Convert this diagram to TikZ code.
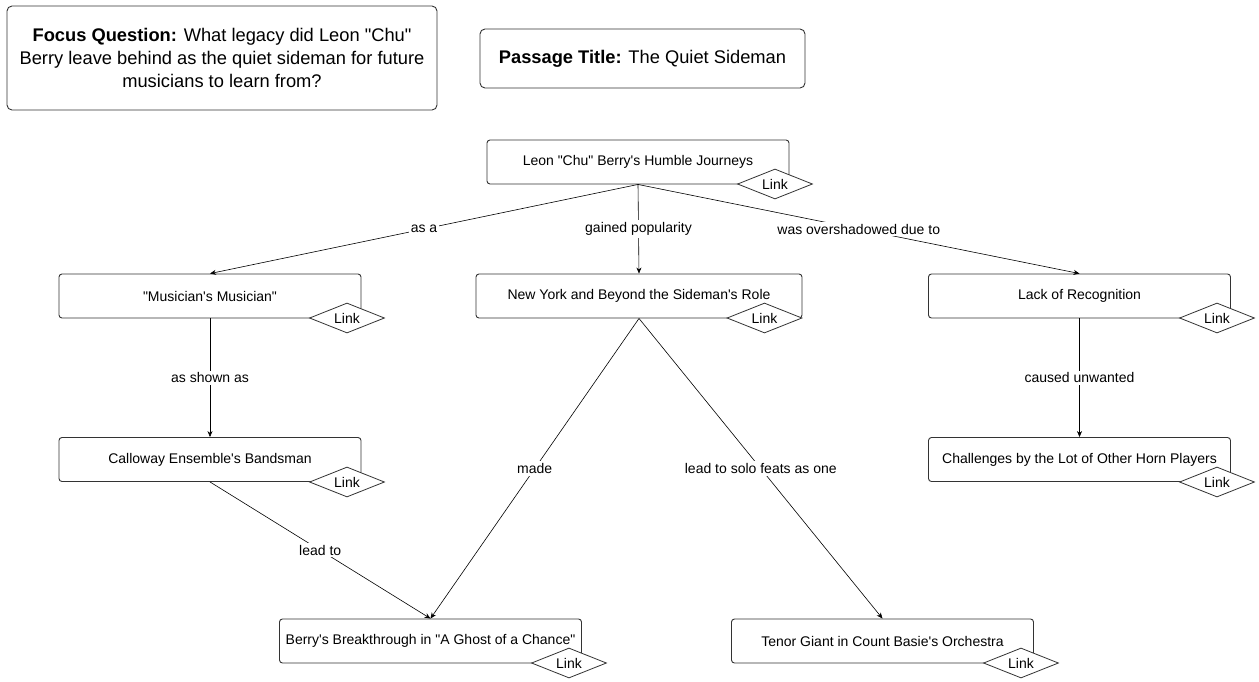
\documentclass[tikz,border=0pt]{standalone}
\usepackage{fontspec}
\setmainfont{Liberation Sans}[Ligatures=TeXOff]
\usetikzlibrary{shapes.geometric,arrows.meta}
\definecolor{edgegray}{HTML}{333333}
\tikzset{
  concept/.style={draw=edgegray, line width=0.9pt, rounded corners=3pt, fill=white,
    minimum width=302pt, minimum height=44pt, inner sep=0pt, font=\fontsize{14}{17}\selectfont},
  headbox/.style={draw=edgegray, line width=0.9pt, rounded corners=5pt, fill=white,
    inner sep=0pt, align=center, font=\fontsize{18.3}{23}\selectfont},
  linktag/.style={diamond, draw=edgegray, line width=0.8pt, fill=white, aspect=2.5,
    minimum width=75pt, minimum height=30pt, inner sep=0pt, font=\fontsize{14}{17}\selectfont},
  rel/.style={draw=black, line width=0.6pt, -{Stealth[length=6pt,width=5pt]}},
  lbl/.style={fill=white, inner sep=2pt, font=\fontsize{14}{17}\selectfont},
}
\begin{document}
\begin{tikzpicture}[x=1pt,y=-1pt]
\useasboundingbox (0,0) rectangle (1259,681);

% header boxes
\node[headbox, minimum width=430pt, minimum height=104pt] (focus) at (222,58)
  {\textbf{Focus Question:} What legacy did Leon "Chu"\\Berry leave behind as the quiet sideman for future\\musicians to learn from?};
\node[headbox, minimum width=325pt, minimum height=59pt] (title) at (642.5,58.5)
  {\textbf{Passage Title:} The Quiet Sideman};

% concept nodes
\node[concept] (root) at (638,162) {Leon "Chu" Berry's Humble Journeys};
\node[concept] (mus) at (210,296) {"Musician's Musician"};
\node[concept, minimum width=326pt] (ny) at (639,296) {New York and Beyond the Sideman's Role};
\node[concept] (lack) at (1079.5,296) {Lack of Recognition};
\node[concept] (cal) at (210,459.5) {Calloway Ensemble's Bandsman};
\node[concept] (chal) at (1079.5,459.5) {Challenges by the Lot of Other Horn Players};
\node[concept] (ghost) at (430.5,641) {Berry's Breakthrough in "A Ghost of a Chance"};
\node[concept] (tenor) at (882.5,641) {Tenor Giant in Count Basie's Orchestra};

% link tags
\node[linktag] (lroot) at (775,184) {Link};
\node[linktag] (lmus) at (347,318) {Link};
\node[linktag] (lny) at (764.5,318) {Link};
\node[linktag] (llack) at (1217,318) {Link};
\node[linktag] (lcal) at (347,482) {Link};
\node[linktag] (lchal) at (1217,482) {Link};
\node[linktag] (lghost) at (569,663) {Link};
\node[linktag] (ltenor) at (1021,663) {Link};

% relations
\draw[rel] (root.south) -- node[lbl] {as a} (mus.north);
\draw[rel] (root.south) -- node[lbl] {gained popularity} (ny.north);
\draw[rel] (root.south) -- node[lbl] {was overshadowed due to} (lack.north);
\draw[rel] (mus.south) -- node[lbl] {as shown as} (cal.north);
\draw[rel] (cal.south) -- node[lbl] {lead to} (ghost.north);
\draw[rel] (ny.south) -- node[lbl] {made} (ghost.north);
\draw[rel] (ny.south) -- node[lbl] {lead to solo feats as one} (tenor.north);
\draw[rel] (lack.south) -- node[lbl] {caused unwanted} (chal.north);
\end{tikzpicture}
\end{document}
